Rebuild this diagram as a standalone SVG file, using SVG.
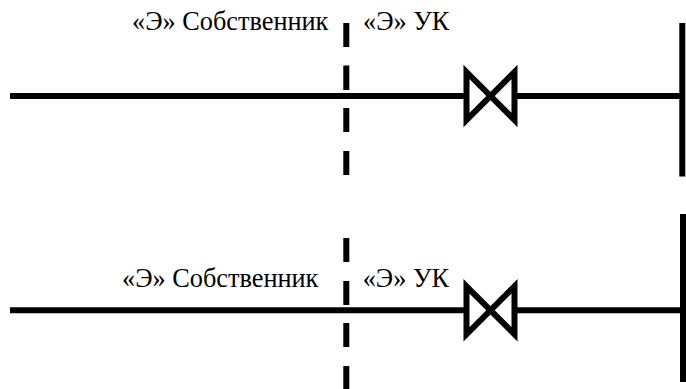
<svg xmlns="http://www.w3.org/2000/svg" width="686" height="389" viewBox="0 0 686 389">
<style>
.l{stroke:#000;stroke-width:6;fill:none}
text{font-family:'Liberation Serif',serif;font-size:26.3px;fill:#000}
</style>
<rect width="686" height="389" fill="#fff"/>
<g id="connectors">
<path class="l" d="M10 96H466M517 96H682M682.3 23V176.5"/>
<path class="l" d="M10 310.3H466M517 310.3H683M683 214V382"/>
<path class="l" d="M346.3 23V47M346.3 65.5V90M346.3 108V132M346.3 151V175"/>
<path class="l" d="M346.3 238V262M346.3 281V305M346.3 323V347M346.3 366V389"/>
</g>
<g id="valve1"><path class="l" d="M466.5 72L514.5 120V72L466.5 120Z"/></g>
<g id="valve2"><path class="l" d="M466.5 286.3L514.5 334.3V286.3L466.5 334.3Z"/></g>
<g id="label1"><text font-family="Liberation Serif" x="132" y="30">«Э» Собственник</text></g>
<g id="label2"><text font-family="Liberation Serif" x="363" y="30">«Э» УК</text></g>
<g id="label3"><text font-family="Liberation Serif" x="122" y="287">«Э» Собственник</text></g>
<g id="label4"><text font-family="Liberation Serif" x="362.7" y="287">«Э» УК</text></g>
</svg>
